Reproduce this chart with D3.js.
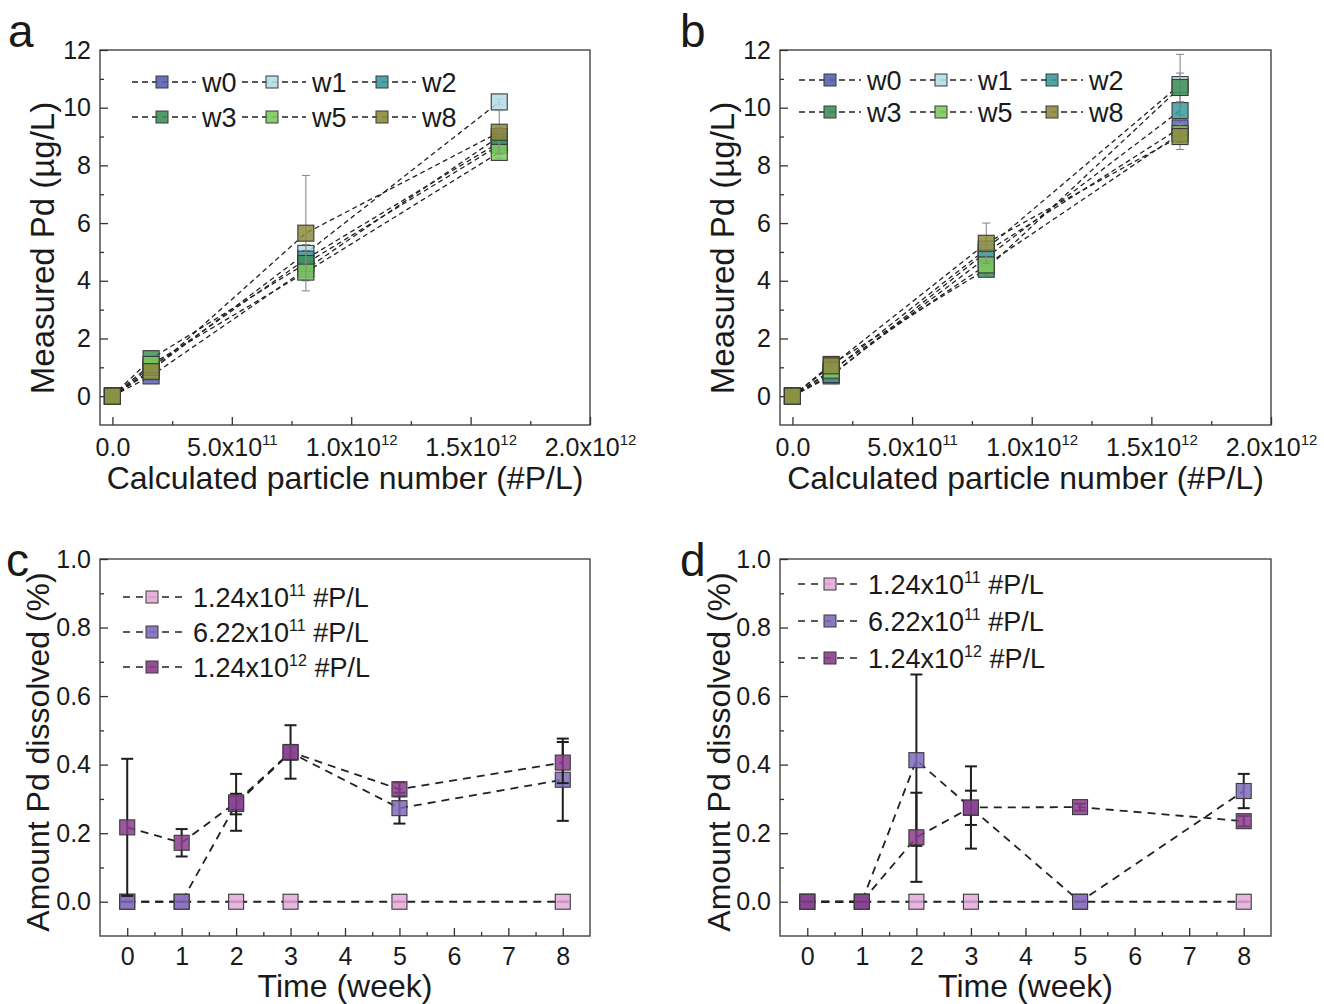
<!DOCTYPE html>
<html><head><meta charset="utf-8">
<script src="https://cdn.jsdelivr.net/npm/d3@7"></script>
<style>
body{margin:0;background:#fff;}
svg{display:block;}
svg text{font-family:Arial,"Liberation Sans",sans-serif;}
</style></head><body>
<svg id="chart" width="1324" height="1004" font-family="Arial, 'Liberation Sans', sans-serif"></svg>
<script>
// ---------------- DATA ----------------
const particleNumber = [0, 1.62e11, 8.1e11, 1.62e12];
const weekNames = ["w0", "w1", "w2", "w3", "w5", "w8"];

// panel a : measured Pd (µg/L)
const aW0 = [0, 0.70, 4.40, 9.00];
const aW1 = [0, 0.90, 4.95, 10.20];
const aW2 = [0, 1.00, 4.75, 8.80];
const aW3 = [0, 1.30, 4.60, 8.70];
const aW5 = [0, 1.10, 4.30, 8.45];
const aW8 = [0, 0.85, 5.65, 9.15];
const aErrW0 = [0, 0.05, 0.35, 0.30];
const aErrW1 = [0, 0.05, 0.30, 0.10];
const aErrW2 = [0, 0.05, 0.30, 0.30];
const aErrW3 = [0, 0.05, 0.30, 0.30];
const aErrW5 = [0, 0.05, 0.30, 0.20];
const aErrW8 = [0, 0.05, 2.00, 0.75];

// panel b
const bW0 = [0, 0.70, 5.00, 9.30];
const bW1 = [0, 0.85, 5.10, 10.80];
const bW2 = [0, 0.75, 4.80, 9.90];
const bW3 = [0, 1.10, 4.40, 10.70];
const bW5 = [0, 0.90, 4.55, 9.10];
const bW8 = [0, 1.05, 5.30, 9.00];
const bErrW0 = [0, 0.05, 0.20, 0.30];
const bErrW1 = [0, 0.05, 0.20, 1.05];
const bErrW2 = [0, 0.05, 0.20, 0.30];
const bErrW3 = [0, 0.05, 0.20, 0.50];
const bErrW5 = [0, 0.05, 0.20, 0.30];
const bErrW8 = [0, 0.05, 0.70, 0.45];

// panels c, d : amount Pd dissolved (%)
const weeks = [0, 1, 2, 3, 5, 8];
const concLabels = [["1.24x10", "11", " #P/L"], ["6.22x10", "11", " #P/L"], ["1.24x10", "12", " #P/L"]];
const cLow = [0, 0, 0, 0, 0, 0];
const cMid = [0, 0, 0.285, 0.435, 0.273, 0.356];
const cHigh = [0.217, 0.172, 0.290, 0.437, 0.328, 0.406];
const cErrLow = [0, 0, 0, 0, 0, 0];
const cErrMid = [0, 0, 0.03, 0.02, 0.045, 0.12];
const cErrHigh = [0.20, 0.04, 0.083, 0.078, 0.02, 0.06];
const dLow = [0, 0, 0, 0, 0, 0];
const dMid = [0, 0, 0.413, 0.274, 0, 0.323];
const dHigh = [0, 0, 0.188, 0.275, 0.276, 0.235];
const dErrLow = [0, 0, 0, 0, 0, 0];
const dErrMid = [0, 0, 0.25, 0.05, 0, 0.05];
const dErrHigh = [0, 0, 0.13, 0.12, 0.01, 0.015];

// ticks
const xTicksAB = [0, 5e11, 1e12, 1.5e12, 2e12];
const xMinorAB = [2.5e11, 7.5e11, 1.25e12, 1.75e12];
const yTicksAB = [0, 2, 4, 6, 8, 10, 12];
const yMinorAB = [1, 3, 5, 7, 9, 11];
const xTicksCD = [0, 1, 2, 3, 4, 5, 6, 7, 8];
const xMinorCD = [0.5, 1.5, 2.5, 3.5, 4.5, 5.5, 6.5, 7.5];
const yTicksCD = [0, 0.2, 0.4, 0.6, 0.8, 1.0];
const yMinorCD = [0.1, 0.3, 0.5, 0.7, 0.9];

// ---------------- STYLE ----------------
const FONT = "Arial, 'Liberation Sans', sans-serif";
const weekColors = ["#5a62b4", "#b4dce9", "#3b9a9c", "#3e9058", "#7dca5e", "#8d8b3c"];
const concColors = ["#e4a9d8", "#7f6abb", "#8b3d8d"];

const svg = d3.select("#chart");

function sciLabel(sel, v) {
  sel.text(null);
  if (v === 0) { sel.append("tspan").text("0.0"); return; }
  const e = Math.floor(Math.log10(v) + 1e-9);
  const m = v / Math.pow(10, e);
  sel.append("tspan").text(m.toFixed(1) + "x10");
  sel.append("tspan").attr("dy", -11).attr("font-size", "15px").text(String(e));
}

function drawPanel(cfg) {
  const g = svg.append("g").attr("font-family", FONT);
  const x = d3.scaleLinear().domain(cfg.xDomain).range([cfg.left, cfg.right]);
  const y = d3.scaleLinear().domain(cfg.yDomain).range([cfg.bottom, cfg.top]);

  // frame
  g.append("rect").attr("x", cfg.left).attr("y", cfg.top)
    .attr("width", cfg.right - cfg.left).attr("height", cfg.bottom - cfg.top)
    .attr("fill", "none").attr("stroke", "#444").attr("stroke-width", 1.4);

  // axes
  const gy = g.append("g").attr("transform", `translate(${cfg.left},0)`)
    .call(d3.axisLeft(y).tickValues(cfg.yTicks).tickFormat(cfg.yFmt).tickSize(-8).tickPadding(9));
  const gym = g.append("g").attr("transform", `translate(${cfg.left},0)`)
    .call(d3.axisLeft(y).tickValues(cfg.yMinor).tickFormat("").tickSize(-4));
  const gx = g.append("g").attr("transform", `translate(0,${cfg.bottom})`)
    .call(d3.axisBottom(x).tickValues(cfg.xTicks).tickSize(-8).tickPadding(cfg.xPad));
  const gxm = g.append("g").attr("transform", `translate(0,${cfg.bottom})`)
    .call(d3.axisBottom(x).tickValues(cfg.xMinor).tickFormat("").tickSize(-4));
  [gy, gym, gx, gxm].forEach(a => {
    a.attr("font-family", FONT);
    a.select(".domain").remove();
    a.selectAll(".tick line").attr("stroke", "#333").attr("stroke-width", 1.3);
    a.selectAll(".tick text").attr("font-family", FONT)
      .attr("font-size", cfg.tickFont + "px").attr("fill", "#1a1a1a");
  });
  if (cfg.sciX) gx.selectAll(".tick text").each(function (d) { sciLabel(d3.select(this), d); });
  else gx.selectAll(".tick text").text(d => d);

  // titles
  g.append("text").attr("x", (cfg.left + cfg.right) / 2).attr("y", cfg.xTitleY)
    .attr("text-anchor", "middle").attr("font-size", cfg.xTitleFont + "px").attr("fill", "#1a1a1a").text(cfg.xTitle);
  g.append("text").attr("transform", `translate(${cfg.yTitleX},${cfg.yTitleY}) rotate(-90)`)
    .attr("text-anchor", "middle").attr("font-size", cfg.yTitleFont + "px").attr("fill", "#1a1a1a").text(cfg.yTitle);
  g.append("text").attr("x", cfg.letterX).attr("y", cfg.letterY)
    .attr("font-size", "46px").attr("fill", "#1a1a1a").text(cfg.letter);

  // lines
  const line = d3.line().x((d, i) => x(cfg.xValues[i])).y(d => y(d));
  cfg.series.forEach(s => {
    g.append("path").datum(s.values).attr("d", line)
      .attr("fill", "none").attr("stroke", "#222").attr("stroke-width", cfg.lineW)
      .attr("stroke-dasharray", cfg.dash);
  });

  // error bars + markers
  const ms = cfg.markerSize;
  cfg.series.forEach(s => {
    const eg = g.append("g").attr("stroke", cfg.errColor).attr("stroke-width", cfg.errW);
    s.values.forEach((v, i) => {
      const e = s.errors[i];
      const cx = x(cfg.xValues[i]);
      if (e > 0) eg.append("line").attr("x1", cx).attr("x2", cx).attr("y1", y(v - e)).attr("y2", y(v + e));
      [v - e, v + e].forEach(t => eg.append("line").attr("x1", cx - cfg.capW / 2).attr("x2", cx + cfg.capW / 2)
        .attr("y1", y(t)).attr("y2", y(t)));
    });
    g.append("g").selectAll("rect").data(s.values).join("rect")
      .attr("x", (d, i) => x(cfg.xValues[i]) - ms / 2).attr("y", d => y(d) - ms / 2)
      .attr("width", ms).attr("height", ms)
      .attr("fill", s.color).attr("fill-opacity", 0.85)
      .attr("stroke", "#3a3a3a").attr("stroke-width", 1.1);
  });

  // legend
  const L = cfg.legend;
  cfg.series.forEach((s, k) => {
    const col = k % L.cols, row = Math.floor(k / L.cols);
    const lx = L.x + col * L.colW, ly = L.y + row * L.rowH;
    const lg = g.append("g");
    lg.append("line").attr("x1", lx).attr("x2", lx + L.lineLen).attr("y1", ly).attr("y2", ly)
      .attr("stroke", "#222").attr("stroke-width", 1.5).attr("stroke-dasharray", L.dash);
    const lm = L.markerSize;
    lg.append("rect").attr("x", lx + L.markerOff - lm / 2).attr("y", ly - lm / 2)
      .attr("width", lm).attr("height", lm).attr("fill", s.color).attr("fill-opacity", 0.9)
      .attr("stroke", "#3a3a3a").attr("stroke-width", 1);
    const t = lg.append("text").attr("x", lx + L.textOff).attr("y", ly + L.font * 0.36)
      .attr("font-size", L.font + "px").attr("fill", "#1a1a1a");
    if (Array.isArray(s.label)) {
      t.append("tspan").text(s.label[0]);
      t.append("tspan").attr("dy", -11).attr("font-size", "16px").text(s.label[1]);
      t.append("tspan").attr("dy", 11).text(s.label[2]);
    } else t.text(s.label);
  });
}

const seriesAB = (vals, errs) => vals.map((v, i) => ({ label: weekNames[i], values: v, errors: errs[i], color: weekColors[i] }));
const seriesCD = (vals, errs) => vals.map((v, i) => ({ label: concLabels[i], values: v, errors: errs[i], color: concColors[i] }));

const commonAB = {
  xDomain: [-5.2e10, 2e12], yDomain: [-1, 12], top: 50, bottom: 425,
  xTicks: xTicksAB, xMinor: xMinorAB, yTicks: yTicksAB, yMinor: yMinorAB,
  yFmt: d3.format("d"), sciX: true, tickFont: 25, xPad: 13, xValues: particleNumber,
  xTitle: "Calculated particle number (#P/L)", yTitle: "Measured Pd (\u00b5g/L)", xTitleY: 489,
  yTitleY: 248, xTitleFont: 32, yTitleFont: 33, lineW: 1.3, dash: "5,3.5", markerSize: 16,
  errColor: "#8a8a8a", errW: 1.1, capW: 8
};
drawPanel(Object.assign({}, commonAB, {
  left: 100, right: 590, letter: "a", letterX: 8, letterY: 47, yTitleX: 54,
  series: seriesAB([aW0, aW1, aW2, aW3, aW5, aW8], [aErrW0, aErrW1, aErrW2, aErrW3, aErrW5, aErrW8]),
  legend: { x: 132, y: 82, cols: 3, colW: 110, rowH: 35, lineLen: 64, markerOff: 30, textOff: 70,
    markerSize: 12, font: 27, dash: "6,4" }
}));
drawPanel(Object.assign({}, commonAB, {
  left: 780, right: 1271, letter: "b", letterX: 680, letterY: 47, yTitleX: 734,
  series: seriesAB([bW0, bW1, bW2, bW3, bW5, bW8], [bErrW0, bErrW1, bErrW2, bErrW3, bErrW5, bErrW8]),
  legend: { x: 799, y: 80, cols: 3, colW: 111, rowH: 32, lineLen: 62, markerOff: 31, textOff: 68,
    markerSize: 12, font: 27, dash: "6,4" }
}));

const commonCD = {
  xDomain: [-0.5, 8.5], yDomain: [-0.1, 1.0], top: 559, bottom: 936,
  xTicks: xTicksCD, xMinor: xMinorCD, yTicks: yTicksCD, yMinor: yMinorCD,
  yFmt: d3.format(".1f"), sciX: false, tickFont: 25, xPad: 11, xValues: weeks,
  xTitle: "Time (week)", yTitle: "Amount Pd dissolved (%)", xTitleY: 997,
  yTitleY: 752, xTitleFont: 32, yTitleFont: 32, lineW: 1.8, dash: "8,6", markerSize: 15,
  errColor: "#1e1e1e", errW: 2, capW: 12
};
drawPanel(Object.assign({}, commonCD, {
  left: 100, right: 590, letter: "c", letterX: 6, letterY: 576, yTitleX: 49,
  series: seriesCD([cLow, cMid, cHigh], [cErrLow, cErrMid, cErrHigh]),
  legend: { x: 123, y: 597, cols: 1, colW: 0, rowH: 35, lineLen: 62, markerOff: 29, textOff: 70,
    markerSize: 12, font: 27, dash: "7,6" }
}));
drawPanel(Object.assign({}, commonCD, {
  left: 780, right: 1271, letter: "d", letterX: 680, letterY: 576, yTitleX: 730,
  series: seriesCD([dLow, dMid, dHigh], [dErrLow, dErrMid, dErrHigh]),
  legend: { x: 798, y: 584, cols: 1, colW: 0, rowH: 37, lineLen: 62, markerOff: 32, textOff: 70,
    markerSize: 12, font: 27, dash: "7,6" }
}));
</script>
</body></html>
